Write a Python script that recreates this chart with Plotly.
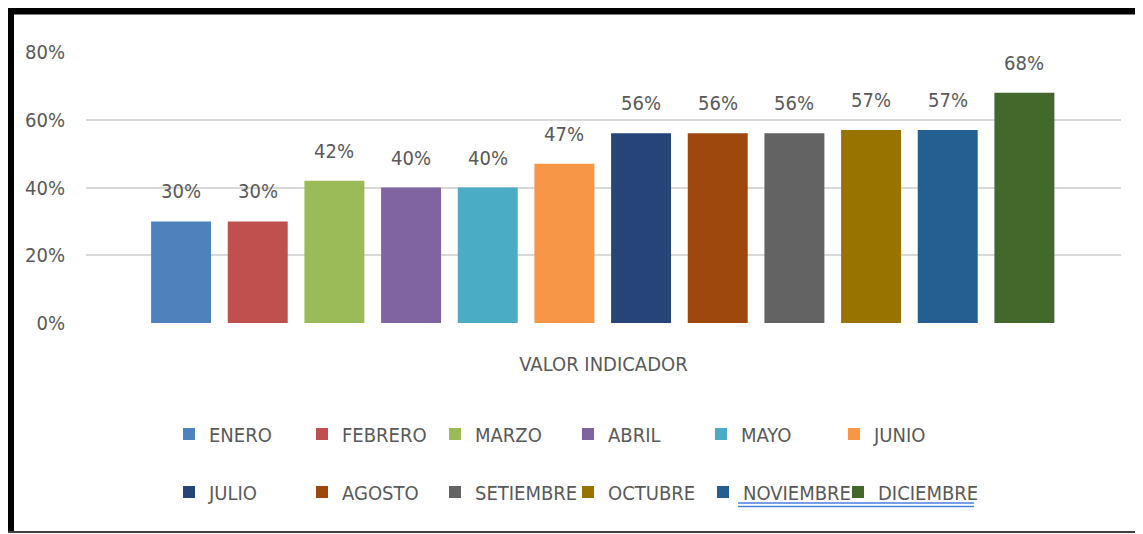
import plotly.graph_objects as go

# data
months = ["ENERO", "FEBRERO", "MARZO", "ABRIL", "MAYO", "JUNIO",
          "JULIO", "AGOSTO", "SETIEMBRE", "OCTUBRE", "NOVIEMBRE", "DICIEMBRE"]
values = [0.30, 0.30, 0.42, 0.40, 0.40, 0.47,
          0.56, 0.56, 0.56, 0.57, 0.57, 0.68]
colors = ["#4F81BD", "#C0504D", "#9BBB59", "#8064A2", "#4BACC6", "#F79646",
          "#264478", "#9E480E", "#636363", "#997300", "#255E91", "#43682B"]
y_ticks = [0, 0.2, 0.4, 0.6, 0.8]
axis_label = "VALOR INDICADOR"

FONT = "DejaVu Sans Condensed, Liberation Sans Narrow, sans-serif"
GREY = "#595959"
FS = 20

# the page adds an 8px body margin, so the figure is sized to the visible area
W, H = 1135, 526
ML, MR, MT, MB = 78, 22, 44, 211
PW, PH = W - ML - MR, H - MT - MB


def px_x(x):
    return (x - ML) / PW


def px_y(y):
    return (H - MB - y) / PH


def legend_for(i):
    # two legend rows of six; the long last two entries get their own boxes
    # so their text isn't clipped by the fixed entry width
    if i < 6:
        return "legend"
    if i < 10:
        return "legend2"
    if i == 10:
        return "legend3"
    return "legend4"


fig = go.Figure()

for i, (m, v, c) in enumerate(zip(months, values, colors)):
    fig.add_trace(
        go.Bar(
            x=[m],
            y=[v],
            name=m,
            marker=dict(color=c, line=dict(width=0)),
            legend=legend_for(i),
            hovertemplate="%{x}: %{y:.0%}<extra></extra>",
        )
    )
    fig.add_annotation(
        x=m, y=v, text=f"{v:.0%}", showarrow=False,
        yanchor="middle", yshift=30,
        font=dict(family=FONT, size=FS, color=GREY),
    )

legend_common = dict(
    orientation="h",
    xanchor="left",
    yanchor="middle",
    entrywidth=88,
    entrywidthmode="pixels",
    font=dict(family=FONT, size=FS, color=GREY),
    bgcolor="rgba(0,0,0,0)",
    traceorder="normal",
)

# frame around the chart and the spell-check underline
shapes = [
    dict(type="line", xref="paper", yref="paper", x0=px_x(-1), x1=px_x(W),
         y0=px_y(2), y1=px_y(2), line=dict(color="black", width=9)),
    dict(type="line", xref="paper", yref="paper", x0=px_x(2.5), x1=px_x(2.5),
         y0=px_y(-3), y1=px_y(525), line=dict(color="black", width=7)),
    dict(type="line", xref="paper", yref="paper", x0=px_x(-1), x1=px_x(W),
         y0=px_y(524), y1=px_y(524), line=dict(color="#404040", width=2)),
    dict(type="line", xref="paper", yref="paper", x0=px_x(730), x1=px_x(966),
         y0=px_y(495), y1=px_y(495), line=dict(color="#4A7FE0", width=1.5)),
    dict(type="line", xref="paper", yref="paper", x0=px_x(730), x1=px_x(966),
         y0=px_y(498.5), y1=px_y(498.5), line=dict(color="#4A7FE0", width=1.5)),
]

fig.update_layout(
    width=W,
    height=H,
    margin=dict(l=ML, r=MR, t=MT, b=MB, autoexpand=False),
    paper_bgcolor="white",
    plot_bgcolor="white",
    barmode="overlay",
    bargap=0.218,
    font=dict(family=FONT, size=FS, color=GREY),
    legend=dict(legend_common, x=px_x(161), y=px_y(426)),
    legend2=dict(legend_common, x=px_x(161), y=px_y(484)),
    legend3=dict(legend_common, entrywidth=0, x=px_x(695), y=px_y(484)),
    legend4=dict(legend_common, entrywidth=0, x=px_x(830), y=px_y(484)),
    shapes=shapes,
    xaxis=dict(
        categoryorder="array",
        categoryarray=months,
        range=[-1.24, 12.26],
        showticklabels=False,
        showgrid=False,
        zeroline=False,
        ticks="",
        title=dict(text=axis_label, standoff=33, font=dict(family=FONT, size=FS, color=GREY)),
        automargin=False,
    ),
    yaxis=dict(
        range=[0, 0.8],
        tickvals=y_ticks,
        tickformat=".0%",
        gridcolor="#D9D9D9",
        gridwidth=2,
        zeroline=False,
        showline=False,
        ticks="",
        ticklabelstandoff=20,
        tickfont=dict(family=FONT, size=FS, color=GREY),
        automargin=False,
    ),
    showlegend=True,
)

fig.write_html("out.html")
